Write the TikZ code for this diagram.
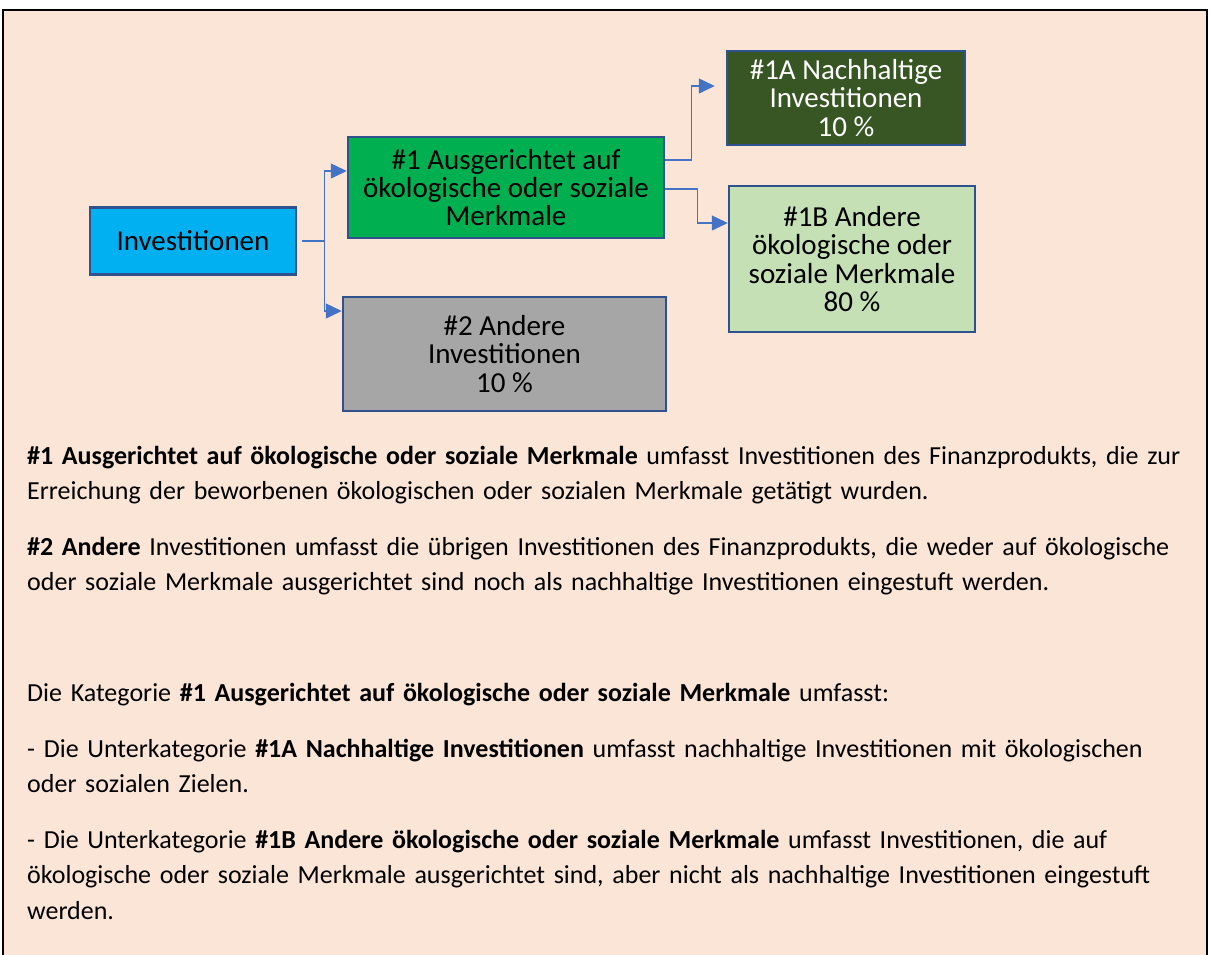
\documentclass[tikz,border=0pt]{standalone}
\usepackage{fontspec}
\setmainfont{Carlito}
\usetikzlibrary{arrows.meta,positioning}
\definecolor{peach}{HTML}{FBE5D6}
\definecolor{skyblue}{HTML}{00B0F0}
\definecolor{leafgreen}{HTML}{00B050}
\definecolor{forestgreen}{HTML}{375623}
\definecolor{palegreen}{HTML}{C5E0B4}
\definecolor{stonegrey}{HTML}{A6A6A6}
\definecolor{frameblue}{HTML}{2F528F}
\definecolor{linkblue}{HTML}{4472C4}
\tikzset{
  category/.style={draw=frameblue,line width=2.5pt,align=center,inner sep=2pt,
    font=\fontsize{29}{28.3}\selectfont},
  link/.style={draw=linkblue,line width=1.5pt,-{Triangle[length=16pt,width=15pt]}},
  note/.style={anchor=base west,text width=1180pt,align=left,inner sep=0pt,
    font=\fontsize{26}{35.5}\selectfont}
}

\begin{document}
\begin{tikzpicture}[x=1pt,y=-1pt]
  \useasboundingbox (0,0) rectangle (1211,954);
  \draw[fill=peach,line width=2pt] (3,10) rectangle (1207,975);

  % categories
  \node[category,fill=skyblue,minimum width=206pt,minimum height=67pt] (inv) at (193,241) {Investitionen};
  \node[category,fill=leafgreen,minimum width=316pt,minimum height=101pt] (cat1) at (506,187.5)
    {\#1 Ausgerichtet auf\\ökologische oder soziale\\Merkmale};
  \node[category,fill=stonegrey,minimum width=323pt,minimum height=114pt] (cat2) at (504.5,354)
    {\#2 Andere\\Investitionen\\10 \%};
  \node[category,fill=forestgreen,text=white,minimum width=238pt,minimum height=94pt] (cat1a) at (846,98)
    {\#1A Nachhaltige\\Investitionen\\10 \%};
  \node[category,fill=palegreen,minimum width=246pt,minimum height=146pt] (cat1b) at (852,259)
    {\#1B Andere\\ökologische oder\\soziale Merkmale\\80 \%};

  % connectors
  \coordinate (fork) at ([xshift=27pt]inv.east);
  \draw[link,-] ([xshift=5pt]inv.east) -- (fork);
  \draw[link] (fork) |- ([yshift=16.5pt]cat1.west);
  \draw[link] (fork) |- ([yshift=43pt]cat2.west);
  \draw[link] ([yshift=27.5pt]cat1.east) -- ++(26,0) |- ([xshift=-11pt,yshift=12pt]cat1a.west);
  \draw[link] ([yshift=-1.5pt]cat1.east) -- ++(32,0) |- ([yshift=36pt]cat1b.west);

  % explanations
  \node[note] (note1) at (27,464) {\textbf{\#1 Ausgerichtet auf ökologische oder soziale Merkmale} umfasst Investitionen des Finanzprodukts, die zur\\
    Erreichung der beworbenen ökologischen oder sozialen Merkmale getätigt wurden.};
  \node[note] (note2) at (27,555) {\textbf{\#2 Andere} Investitionen umfasst die übrigen Investitionen des Finanzprodukts, die weder auf ökologische\\
    oder soziale Merkmale ausgerichtet sind noch als nachhaltige Investitionen eingestuft werden.};
  \node[note] (note3) at (27,701.5) {Die Kategorie \textbf{\#1 Ausgerichtet auf ökologische oder soziale Merkmale} umfasst:};
  \node[note] (note4) at (27,757) {- Die Unterkategorie \textbf{\#1A Nachhaltige Investitionen} umfasst nachhaltige Investitionen mit ökologischen\\
    oder sozialen Zielen.};
  \node[note] (note5) at (27,848) {- Die Unterkategorie \textbf{\#1B Andere ökologische oder soziale Merkmale} umfasst Investitionen, die auf\\
    ökologische oder soziale Merkmale ausgerichtet sind, aber nicht als nachhaltige Investitionen eingestuft\\
    werden.};
\end{tikzpicture}
\end{document}
